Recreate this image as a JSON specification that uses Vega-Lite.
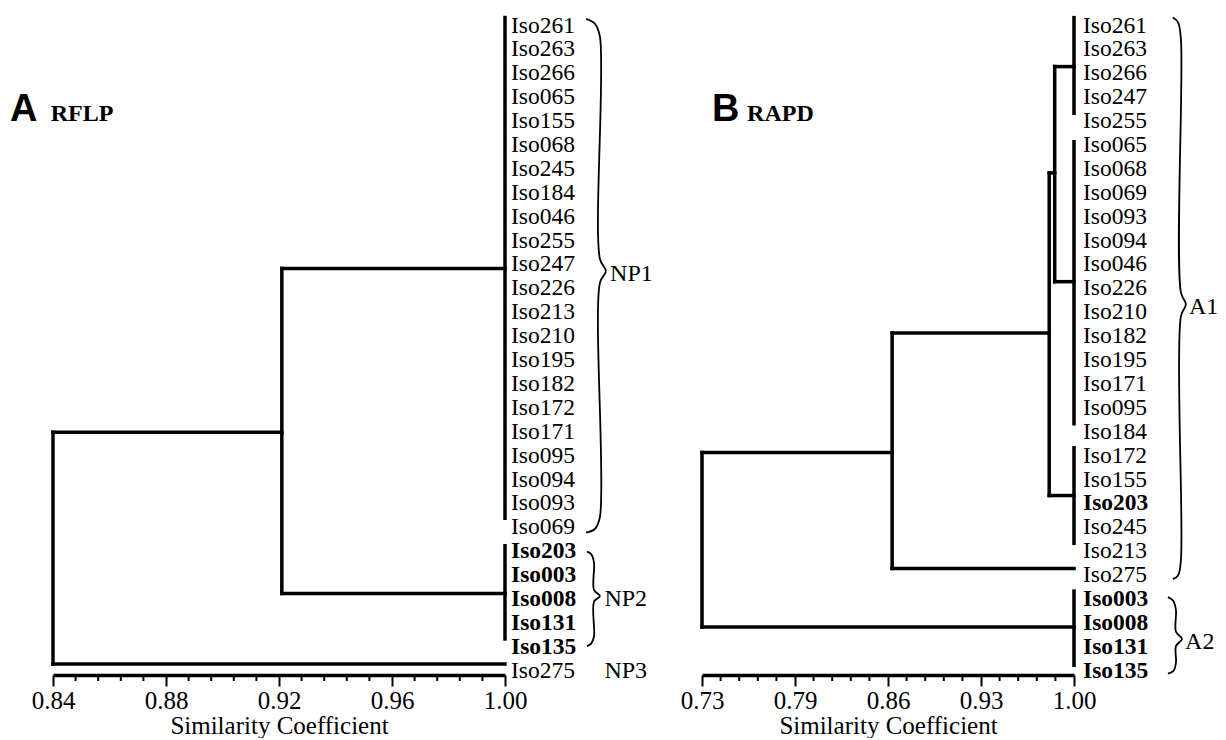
{
  "$schema": "https://vega.github.io/schema/vega-lite/v6.json",
  "autosize": "pad",
  "padding": {"left": 10, "top": 0, "right": 0, "bottom": 0},
  "background": "white",
  "spacing": 197,
  "bounds": "flush",
  "datasets": {
    "leavesA": [
      {"name": "Iso261", "pos": 0}, {"name": "Iso263", "pos": 1}, {"name": "Iso266", "pos": 2}, {"name": "Iso065", "pos": 3},
      {"name": "Iso155", "pos": 4}, {"name": "Iso068", "pos": 5}, {"name": "Iso245", "pos": 6}, {"name": "Iso184", "pos": 7},
      {"name": "Iso046", "pos": 8}, {"name": "Iso255", "pos": 9}, {"name": "Iso247", "pos": 10}, {"name": "Iso226", "pos": 11},
      {"name": "Iso213", "pos": 12}, {"name": "Iso210", "pos": 13}, {"name": "Iso195", "pos": 14}, {"name": "Iso182", "pos": 15},
      {"name": "Iso172", "pos": 16}, {"name": "Iso171", "pos": 17}, {"name": "Iso095", "pos": 18}, {"name": "Iso094", "pos": 19},
      {"name": "Iso093", "pos": 20}, {"name": "Iso069", "pos": 21}, {"name": "Iso203", "pos": 22}, {"name": "Iso003", "pos": 23},
      {"name": "Iso008", "pos": 24}, {"name": "Iso131", "pos": 25}, {"name": "Iso135", "pos": 26}, {"name": "Iso275", "pos": 27}
    ],
    "leavesB": [
      {"name": "Iso261", "pos": 0}, {"name": "Iso263", "pos": 1}, {"name": "Iso266", "pos": 2}, {"name": "Iso247", "pos": 3},
      {"name": "Iso255", "pos": 4}, {"name": "Iso065", "pos": 5}, {"name": "Iso068", "pos": 6}, {"name": "Iso069", "pos": 7},
      {"name": "Iso093", "pos": 8}, {"name": "Iso094", "pos": 9}, {"name": "Iso046", "pos": 10}, {"name": "Iso226", "pos": 11},
      {"name": "Iso210", "pos": 12}, {"name": "Iso182", "pos": 13}, {"name": "Iso195", "pos": 14}, {"name": "Iso171", "pos": 15},
      {"name": "Iso095", "pos": 16}, {"name": "Iso184", "pos": 17}, {"name": "Iso172", "pos": 18}, {"name": "Iso155", "pos": 19},
      {"name": "Iso203", "pos": 20}, {"name": "Iso245", "pos": 21}, {"name": "Iso213", "pos": 22}, {"name": "Iso275", "pos": 23},
      {"name": "Iso003", "pos": 24}, {"name": "Iso008", "pos": 25}, {"name": "Iso131", "pos": 26}, {"name": "Iso135", "pos": 27}
    ],
    "linksA": [
      {"x": 1, "x2": 1, "y": -0.1, "y2": 20.85},
      {"x": 0.921, "x2": 1, "y": 10.4, "y2": 10.4},
      {"x": 1, "x2": 1, "y": 22.0, "y2": 25.9},
      {"x": 0.921, "x2": 1, "y": 24.0, "y2": 24.0},
      {"x": 0.921, "x2": 0.921, "y": 10.4, "y2": 24.0},
      {"x": 0.84, "x2": 0.921, "y": 17.25, "y2": 17.25},
      {"x": 0.84, "x2": 0.84, "y": 17.25, "y2": 26.95},
      {"x": 0.84, "x2": 1, "y": 26.95, "y2": 26.95}
    ],
    "linksB": [
      {"x": 1, "x2": 1, "y": -0.1, "y2": 3.9},
      {"x": 0.986, "x2": 1, "y": 1.95, "y2": 1.95},
      {"x": 1, "x2": 1, "y": 5.1, "y2": 16.9},
      {"x": 0.986, "x2": 1, "y": 10.95, "y2": 10.95},
      {"x": 0.986, "x2": 0.986, "y": 1.95, "y2": 10.95},
      {"x": 0.982, "x2": 0.986, "y": 6.4, "y2": 6.4},
      {"x": 0.982, "x2": 0.982, "y": 6.4, "y2": 19.9},
      {"x": 1, "x2": 1, "y": 17.9, "y2": 21.9},
      {"x": 0.982, "x2": 1, "y": 19.9, "y2": 19.9},
      {"x": 0.868, "x2": 0.982, "y": 13.1, "y2": 13.1},
      {"x": 0.868, "x2": 0.868, "y": 13.1, "y2": 22.95},
      {"x": 0.868, "x2": 1, "y": 22.95, "y2": 22.95},
      {"x": 0.73, "x2": 0.868, "y": 18.1, "y2": 18.1},
      {"x": 0.73, "x2": 0.73, "y": 18.1, "y2": 25.4},
      {"x": 1, "x2": 1, "y": 23.9, "y2": 27.0},
      {"x": 0.73, "x2": 1, "y": 25.4, "y2": 25.4}
    ],
    "minorA": [
      {"v": 0.848}, {"v": 0.856}, {"v": 0.864}, {"v": 0.872},
      {"v": 0.888}, {"v": 0.896}, {"v": 0.904}, {"v": 0.912},
      {"v": 0.928}, {"v": 0.936}, {"v": 0.944}, {"v": 0.952},
      {"v": 0.968}, {"v": 0.976}, {"v": 0.984}, {"v": 0.992}
    ],
    "minorB": [
      {"v": 0.7435}, {"v": 0.757}, {"v": 0.7705}, {"v": 0.784},
      {"v": 0.811}, {"v": 0.8245}, {"v": 0.838}, {"v": 0.8515},
      {"v": 0.8785}, {"v": 0.892}, {"v": 0.9055}, {"v": 0.919},
      {"v": 0.946}, {"v": 0.9595}, {"v": 0.973}, {"v": 0.9865}
    ],
    "bracesA": [
      {"brace": "NP1", "o": 0, "x": 1.0287, "y": -0.05},
      {"brace": "NP1", "o": 1, "x": 1.0318, "y": 0.15},
      {"brace": "NP1", "o": 2, "x": 1.0336, "y": 0.7},
      {"brace": "NP1", "o": 3, "x": 1.0336, "y": 10.0},
      {"brace": "NP1", "o": 4, "x": 1.0357, "y": 10.5},
      {"brace": "NP1", "o": 5, "x": 1.0336, "y": 11.0},
      {"brace": "NP1", "o": 6, "x": 1.0336, "y": 20.8},
      {"brace": "NP1", "o": 7, "x": 1.0318, "y": 21.3},
      {"brace": "NP1", "o": 8, "x": 1.0287, "y": 21.45},
      {"brace": "NP2", "o": 0, "x": 1.029, "y": 22.25},
      {"brace": "NP2", "o": 1, "x": 1.0305, "y": 22.35},
      {"brace": "NP2", "o": 2, "x": 1.0315, "y": 22.7},
      {"brace": "NP2", "o": 3, "x": 1.0315, "y": 23.85},
      {"brace": "NP2", "o": 4, "x": 1.0336, "y": 24.1},
      {"brace": "NP2", "o": 5, "x": 1.0315, "y": 24.35},
      {"brace": "NP2", "o": 6, "x": 1.0315, "y": 25.8},
      {"brace": "NP2", "o": 7, "x": 1.0305, "y": 26.1},
      {"brace": "NP2", "o": 8, "x": 1.029, "y": 26.2}
    ],
    "bracesB": [
      {"brace": "A1", "o": 0, "x": 1.0718, "y": -0.1},
      {"brace": "A1", "o": 1, "x": 1.0755, "y": 0.1},
      {"brace": "A1", "o": 2, "x": 1.0776, "y": 0.8},
      {"brace": "A1", "o": 3, "x": 1.0776, "y": 11.4},
      {"brace": "A1", "o": 4, "x": 1.0812, "y": 11.9},
      {"brace": "A1", "o": 5, "x": 1.0776, "y": 12.4},
      {"brace": "A1", "o": 6, "x": 1.0776, "y": 22.6},
      {"brace": "A1", "o": 7, "x": 1.0755, "y": 23.25},
      {"brace": "A1", "o": 8, "x": 1.0718, "y": 23.4},
      {"brace": "A2", "o": 0, "x": 1.0682, "y": 24.15},
      {"brace": "A2", "o": 1, "x": 1.072, "y": 24.3},
      {"brace": "A2", "o": 2, "x": 1.074, "y": 24.7},
      {"brace": "A2", "o": 3, "x": 1.074, "y": 25.6},
      {"brace": "A2", "o": 4, "x": 1.0784, "y": 25.9},
      {"brace": "A2", "o": 5, "x": 1.074, "y": 26.2},
      {"brace": "A2", "o": 6, "x": 1.074, "y": 26.9},
      {"brace": "A2", "o": 7, "x": 1.072, "y": 27.25},
      {"brace": "A2", "o": 8, "x": 1.0682, "y": 27.35}
    ],
    "groupsA": [
      {"group": "NP1", "x": 1.0372, "y": 10.5},
      {"group": "NP2", "x": 1.0352, "y": 24.1},
      {"group": "NP3", "x": 1.0352, "y": 27.1}
    ],
    "groupsB": [
      {"group": "A1", "x": 1.0834, "y": 11.9},
      {"group": "A2", "x": 1.0806, "y": 25.9}
    ],
    "panelA": [{"letter": "A", "method": "RFLP"}],
    "panelB": [{"letter": "B", "method": "RAPD"}]
  },
  "hconcat": [
    {
      "width": 452,
      "height": 675,
      "layer": [
        {
          "data": {"name": "linksA"},
          "mark": {"type": "rule", "strokeWidth": 3.5, "strokeCap": "square", "color": "black"},
          "encoding": {
            "x": {"field": "x", "type": "quantitative",
              "scale": {"domain": [0.84, 1], "nice": false, "zero": false},
              "axis": {
                "title": "Similarity Coefficient",
                "values": [0.84, 0.88, 0.92, 0.96, 1],
                "format": ".2f"
              }},
            "x2": {"field": "x2"},
            "y": {"field": "y", "type": "quantitative",
              "scale": {"domain": [-0.837, 27.41], "reverse": true, "nice": false, "zero": false},
              "axis": null},
            "y2": {"field": "y2"}
          }
        },
        {
          "data": {"name": "minorA"},
          "mark": {"type": "tick", "orient": "vertical", "size": 6, "thickness": 2, "color": "black", "opacity": 1},
          "encoding": {
            "x": {"field": "v", "type": "quantitative"},
            "y": {"datum": 27.536, "type": "quantitative", "axis": null}
          }
        },
        {
          "data": {"name": "leavesA"},
          "transform": [{"filter": "indexof(['Iso203','Iso003','Iso008','Iso131','Iso135'], datum.name) < 0"}],
          "mark": {"type": "text", "align": "left", "baseline": "middle", "dx": 6, "dy": 5.5, "font": "Liberation Serif", "fontSize": 23.5, "color": "black"},
          "encoding": {
            "x": {"datum": 1, "type": "quantitative"},
            "y": {"field": "pos", "type": "quantitative", "axis": null},
            "text": {"field": "name"}
          }
        },
        {
          "data": {"name": "leavesA"},
          "transform": [{"filter": "indexof(['Iso203','Iso003','Iso008','Iso131','Iso135'], datum.name) >= 0"}],
          "mark": {"type": "text", "align": "left", "baseline": "middle", "dx": 6, "dy": 5.5, "font": "Liberation Serif", "fontSize": 23.5, "fontWeight": "bold", "color": "black"},
          "encoding": {
            "x": {"datum": 1, "type": "quantitative"},
            "y": {"field": "pos", "type": "quantitative", "axis": null},
            "text": {"field": "name"}
          }
        },
        {
          "data": {"name": "bracesA"},
          "mark": {"type": "line", "interpolate": "catmull-rom", "strokeWidth": 1.8, "color": "black"},
          "encoding": {
            "x": {"field": "x", "type": "quantitative"},
            "y": {"field": "y", "type": "quantitative", "axis": null},
            "detail": {"field": "brace"},
            "order": {"field": "o", "type": "quantitative"}
          }
        },
        {
          "data": {"name": "groupsA"},
          "mark": {"type": "text", "align": "left", "baseline": "middle", "dy": 3, "font": "Liberation Serif", "fontSize": 24, "color": "black"},
          "encoding": {
            "x": {"field": "x", "type": "quantitative"},
            "y": {"field": "y", "type": "quantitative", "axis": null},
            "text": {"field": "group"}
          }
        },
        {
          "data": {"name": "panelA"},
          "mark": {"type": "text", "align": "left", "baseline": "alphabetic", "font": "Liberation Sans", "fontWeight": "bold", "fontSize": 38, "color": "black"},
          "encoding": {
            "x": {"datum": 0.8248, "type": "quantitative"},
            "y": {"datum": 4.23, "type": "quantitative", "axis": null},
            "text": {"field": "letter"}
          }
        },
        {
          "data": {"name": "panelA"},
          "mark": {"type": "text", "align": "left", "baseline": "alphabetic", "font": "Liberation Serif", "fontWeight": "bold", "fontSize": 24, "color": "black"},
          "encoding": {
            "x": {"datum": 0.8392, "type": "quantitative"},
            "y": {"datum": 4.23, "type": "quantitative", "axis": null},
            "text": {"field": "method"}
          }
        }
      ]
    },
    {
      "width": 372,
      "height": 675,
      "layer": [
        {
          "data": {"name": "linksB"},
          "mark": {"type": "rule", "strokeWidth": 3.5, "strokeCap": "square", "color": "black"},
          "encoding": {
            "x": {"field": "x", "type": "quantitative",
              "scale": {"domain": [0.73, 1], "nice": false, "zero": false},
              "axis": {
                "title": "Similarity Coefficient",
                "values": [0.73, 0.7975, 0.865, 0.9325, 1],
                "labelExpr": "format(floor(datum.value * 100 + 0.0001) / 100, '.2f')"
              }},
            "x2": {"field": "x2"},
            "y": {"field": "y", "type": "quantitative",
              "scale": {"domain": [-0.837, 27.41], "reverse": true, "nice": false, "zero": false},
              "axis": null},
            "y2": {"field": "y2"}
          }
        },
        {
          "data": {"name": "minorB"},
          "mark": {"type": "tick", "orient": "vertical", "size": 6, "thickness": 2, "color": "black", "opacity": 1},
          "encoding": {
            "x": {"field": "v", "type": "quantitative"},
            "y": {"datum": 27.536, "type": "quantitative", "axis": null}
          }
        },
        {
          "data": {"name": "leavesB"},
          "transform": [{"filter": "indexof(['Iso203','Iso003','Iso008','Iso131','Iso135'], datum.name) < 0"}],
          "mark": {"type": "text", "align": "left", "baseline": "middle", "dx": 9, "dy": 5.5, "font": "Liberation Serif", "fontSize": 23.5, "color": "black"},
          "encoding": {
            "x": {"datum": 1, "type": "quantitative"},
            "y": {"field": "pos", "type": "quantitative", "axis": null},
            "text": {"field": "name"}
          }
        },
        {
          "data": {"name": "leavesB"},
          "transform": [{"filter": "indexof(['Iso203','Iso003','Iso008','Iso131','Iso135'], datum.name) >= 0"}],
          "mark": {"type": "text", "align": "left", "baseline": "middle", "dx": 9, "dy": 5.5, "font": "Liberation Serif", "fontSize": 23.5, "fontWeight": "bold", "color": "black"},
          "encoding": {
            "x": {"datum": 1, "type": "quantitative"},
            "y": {"field": "pos", "type": "quantitative", "axis": null},
            "text": {"field": "name"}
          }
        },
        {
          "data": {"name": "bracesB"},
          "mark": {"type": "line", "interpolate": "catmull-rom", "strokeWidth": 1.8, "color": "black"},
          "encoding": {
            "x": {"field": "x", "type": "quantitative"},
            "y": {"field": "y", "type": "quantitative", "axis": null},
            "detail": {"field": "brace"},
            "order": {"field": "o", "type": "quantitative"}
          }
        },
        {
          "data": {"name": "groupsB"},
          "mark": {"type": "text", "align": "left", "baseline": "middle", "dy": 3, "font": "Liberation Serif", "fontSize": 24, "color": "black"},
          "encoding": {
            "x": {"field": "x", "type": "quantitative"},
            "y": {"field": "y", "type": "quantitative", "axis": null},
            "text": {"field": "group"}
          }
        },
        {
          "data": {"name": "panelB"},
          "mark": {"type": "text", "align": "left", "baseline": "alphabetic", "font": "Liberation Sans", "fontWeight": "bold", "fontSize": 38, "color": "black"},
          "encoding": {
            "x": {"datum": 0.7373, "type": "quantitative"},
            "y": {"datum": 4.23, "type": "quantitative", "axis": null},
            "text": {"field": "letter"}
          }
        },
        {
          "data": {"name": "panelB"},
          "mark": {"type": "text", "align": "left", "baseline": "alphabetic", "font": "Liberation Serif", "fontWeight": "bold", "fontSize": 24, "color": "black"},
          "encoding": {
            "x": {"datum": 0.7627, "type": "quantitative"},
            "y": {"datum": 4.23, "type": "quantitative", "axis": null},
            "text": {"field": "method"}
          }
        }
      ]
    }
  ],
  "config": {
    "view": {"stroke": null},
    "axis": {
      "grid": false,
      "domainColor": "black",
      "domainWidth": 3.5,
      "tickColor": "black",
      "tickWidth": 2,
      "tickSize": 11,
      "labelFont": "Liberation Serif",
      "labelFontSize": 25,
      "labelColor": "black",
      "labelPadding": 2,
      "labelFlush": false,
      "labelOverlap": false,
      "titleFont": "Liberation Serif",
      "titleFontSize": 25,
      "titleFontWeight": "normal",
      "titleColor": "black",
      "titlePadding": 0
    }
  }
}
